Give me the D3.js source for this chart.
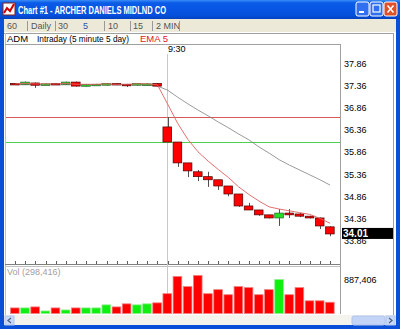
<!DOCTYPE html>
<html><head><meta charset="utf-8">
<script src="https://cdn.jsdelivr.net/npm/d3@7"></script>
<style>body{margin:0;background:#fff}svg{display:block}text{font-family:"Liberation Sans",Arial,sans-serif}</style>
</head><body>
<script>
const times = ["14:45","14:50","14:55","15:00","15:05","15:10","15:15","15:20","15:25","15:30","15:35","15:40","15:45","15:50","15:55",
  "9:30","9:35","9:40","9:45","9:50","9:55","10:00","10:05","10:10","10:15","10:20","10:25","10:30","10:35","10:40","10:45","10:50"];
const open  = [37.40,37.38,37.41,37.38,37.40,37.38,37.43,37.35,37.37,37.36,37.40,37.38,37.36,37.38,37.40,
  36.42,36.08,35.61,35.41,35.30,35.23,35.09,34.91,34.64,34.55,34.44,34.37,34.48,34.46,34.41,34.37,34.17];
const high  = [37.41,37.44,37.42,37.40,37.41,37.44,37.44,37.38,37.39,37.41,37.41,37.39,37.41,37.40,37.41,
  36.64,36.08,35.61,35.45,35.41,35.23,35.09,34.91,34.71,34.55,34.44,34.57,34.57,34.48,34.42,34.38,34.18];
const low   = [37.38,37.37,37.30,37.37,37.37,37.37,37.33,37.33,37.36,37.35,37.36,37.32,37.35,37.37,37.33,
  36.08,35.52,35.29,35.20,35.07,35.00,34.86,34.62,34.55,34.42,34.36,34.19,34.37,34.39,34.36,34.12,33.96];
const close = [37.39,37.43,37.36,37.39,37.38,37.43,37.34,37.37,37.38,37.40,37.37,37.37,37.40,37.39,37.34,
  36.08,35.61,35.43,35.30,35.23,35.09,34.91,34.64,34.55,34.44,34.37,34.48,34.44,34.41,34.37,34.19,34.01];
const volume = [148000,148000,175000,67000,148000,94000,148000,148000,148000,229000,175000,256000,229000,256000,282000,
  525000,982000,713000,1009000,525000,632000,498000,713000,686000,498000,632000,901000,498000,686000,336000,336000,298416];
const emaFast = [37.39,37.40,37.39,37.39,37.39,37.40,37.38,37.38,37.38,37.39,37.38,37.38,37.39,37.39,37.37,
  36.94,36.50,36.14,35.86,35.65,35.46,35.28,35.07,34.90,34.75,34.62,34.57,34.53,34.49,34.45,34.36,34.25];
const emaSlow = [37.37,37.37,37.37,37.37,37.37,37.37,37.37,37.37,37.37,37.37,37.37,37.37,37.37,37.36,37.34,
  37.25,37.09,36.94,36.80,36.67,36.53,36.40,36.26,36.13,35.97,35.83,35.68,35.56,35.45,35.34,35.23,35.11];
const priceTicks = [37.86,37.36,36.86,36.36,35.86,35.36,34.86,34.36,33.86];
const refLines = [{price:36.64,color:"#d85858"},{price:36.08,color:"#50d050"}];
const lastPrice = 34.01;
const volLabel = 887406;
const tabs = ["60","Daily","30","5","10","15","2 MIN"];

const W=400,H=329;
const svg=d3.select("body").append("svg").attr("width",W).attr("height",H);

// window frame
const tg=svg.append("defs").append("linearGradient").attr("id","tg").attr("x1",0).attr("y1",0).attr("x2",0).attr("y2",1);
tg.append("stop").attr("offset","0").attr("stop-color","#3a8cf6");
tg.append("stop").attr("offset","0.15").attr("stop-color","#0a5be8");
tg.append("stop").attr("offset","0.8").attr("stop-color","#0550dd");
tg.append("stop").attr("offset","1").attr("stop-color","#0342c0");
svg.append("rect").attr("width",W).attr("height",H).attr("fill","#0a4fd8");
svg.append("rect").attr("width",W).attr("height",19).attr("fill","url(#tg)");
// icon
svg.append("rect").attr("x",3).attr("y",3).attr("width",12).attr("height",12).attr("fill","#fff").attr("stroke","#802020");
svg.append("path").attr("d","M4,13 L7,8 L10,11 L14,4").attr("stroke","#d00000").attr("stroke-width",2).attr("fill","none");
svg.append("text").attr("x",18).attr("y",14).attr("fill","#fff").attr("font-weight","bold").attr("font-size",11)
  .attr("textLength",148).attr("lengthAdjust","spacingAndGlyphs").text("Chart #1 - ARCHER DANIELS MIDLND CO");
// buttons
[[356,"#2f6ff0"],[370,"#2f6ff0"],[384,"#e0502a"]].forEach(([bx,c])=>{
  svg.append("rect").attr("x",bx).attr("y",2).attr("width",13).attr("height",14).attr("rx",2).attr("fill",c).attr("stroke","#fff");
});
svg.append("rect").attr("x",359).attr("y",11).attr("width",5).attr("height",2).attr("fill","#fff");
svg.append("rect").attr("x",373).attr("y",5).attr("width",7).attr("height",7).attr("fill","none").attr("stroke","#fff").attr("stroke-width",1.2);
svg.append("path").attr("d","M387.5,5.5 L393.5,12.5 M393.5,5.5 L387.5,12.5").attr("stroke","#fff").attr("stroke-width",1.6);

// toolbar
svg.append("rect").attr("x",4).attr("y",19).attr("width",392).attr("height",13).attr("fill","#ece9d8");
const tabX=[7,31,58,83,108,133,156], sepX=[27,55,104,130,152,179];
tabs.forEach((t,i)=>svg.append("text").attr("x",tabX[i]).attr("y",29).attr("font-size",9)
  .attr("fill",t==="5"?"#3050b0":"#555").text(t));
sepX.forEach(x=>svg.append("line").attr("x1",x+0.5).attr("x2",x+0.5).attr("y1",21).attr("y2",31).attr("stroke","#999"));

// client area
svg.append("rect").attr("x",4).attr("y",32).attr("width",392).attr("height",283).attr("fill","#fff");
svg.append("line").attr("x1",4).attr("x2",394).attr("y1",33.5).attr("y2",33.5).attr("stroke","#a0a0a0");
svg.append("line").attr("x1",393.5).attr("x2",393.5).attr("y1",33).attr("y2",315).attr("stroke","#a0a0a0");
svg.append("line").attr("x1",5.5).attr("x2",5.5).attr("y1",33).attr("y2",315).attr("stroke","#c0c0c0");
svg.append("text").attr("x",7).attr("y",42).attr("font-size",9.5).attr("fill","#000").text("ADM");
svg.append("text").attr("x",37).attr("y",42).attr("font-size",9.5).attr("fill","#000")
  .attr("textLength",92).attr("lengthAdjust","spacingAndGlyphs").text("Intraday (5 minute 5 day)");
svg.append("text").attr("x",140).attr("y",42).attr("font-size",9.5).attr("fill","#e02020").text("EMA 5");

// plot frame
const pL=5,pR=340,pT=44,pB=264,vT=266,vB=314;
svg.append("line").attr("x1",pL).attr("x2",pR).attr("y1",pT+0.5).attr("y2",pT+0.5).attr("stroke","#a0a0a0");
svg.append("line").attr("x1",pR+0.5).attr("x2",pR+0.5).attr("y1",pT).attr("y2",vB).attr("stroke","#a0a0a0");
svg.append("line").attr("x1",pL).attr("x2",pR).attr("y1",pB+0.5).attr("y2",pB+0.5).attr("stroke","#808080");
svg.append("line").attr("x1",pL).attr("x2",pR).attr("y1",vT+0.5).attr("y2",vT+0.5).attr("stroke","#c0c0c0");

const x=d3.scaleBand().domain(d3.range(times.length)).range([10,335.2]).padding(0);
const cx=i=>x(i)+x.bandwidth()/2;
const y=d3.scaleLinear().domain([33.86,37.86]).range([240.6,63]);
const yv=d3.scaleLinear().domain([0,volLabel]).range([313.5,280]);

// x ticks
svg.append("g").selectAll("line").data(times).join("line")
  .attr("x1",(d,i)=>Math.round(cx(i))+0.5).attr("x2",(d,i)=>Math.round(cx(i))+0.5)
  .attr("y1",pB-3).attr("y2",pB).attr("stroke","#606060");

// session separator
const s930=times.indexOf("9:30");
svg.append("line").attr("x1",Math.round(cx(s930))-0.5).attr("x2",Math.round(cx(s930))-0.5).attr("y1",54).attr("y2",vB)
  .attr("stroke","#c8c8c8");
svg.append("text").attr("x",Math.round(cx(s930))).attr("y",52).attr("font-size",9).attr("fill","#000").text("9:30");

// reference lines
refLines.forEach(r=>svg.append("line").attr("x1",pL+1).attr("x2",pR).attr("y1",Math.round(y(r.price))+0.5)
  .attr("y2",Math.round(y(r.price))+0.5).attr("stroke",r.color));

// price axis labels
priceTicks.forEach(p=>svg.append("text").attr("x",344).attr("y",y(p)+3.5).attr("font-size",9).attr("fill","#000").text(p.toFixed(2)));

// slow / fast lines
const ln=d3.line().x((d,i)=>cx(i)).y(d=>y(d));
svg.append("path").attr("d",ln(emaSlow)).attr("fill","none").attr("stroke","#808080").attr("stroke-width",0.8);

// candles
const up=i=>close[i]>=open[i];
const cg=svg.append("g");
cg.selectAll("line").data(times).join("line")
  .attr("x1",(d,i)=>Math.round(cx(i))+0.5).attr("x2",(d,i)=>Math.round(cx(i))+0.5)
  .attr("y1",(d,i)=>y(high[i])).attr("y2",(d,i)=>y(low[i])).attr("stroke","#505050");
cg.selectAll("rect").data(times).join("rect")
  .attr("x",(d,i)=>x(i)+0.5).attr("width",x.bandwidth()-1.5)
  .attr("y",(d,i)=>y(Math.max(open[i],close[i])))
  .attr("height",(d,i)=>Math.max(1.5,Math.abs(y(open[i])-y(close[i]))))
  .attr("fill",(d,i)=>up(i)?"#20e020":"#ff0000").attr("stroke",(d,i)=>up(i)?"#306030":"#500000").attr("stroke-width",0.7);

svg.append("path").attr("d",ln(emaFast)).attr("fill","none").attr("stroke","#e06060").attr("stroke-width",0.9);

// last price tag
svg.append("rect").attr("x",342).attr("y",y(lastPrice)-6).attr("width",51).attr("height",11).attr("fill","#000");
svg.append("text").attr("x",343).attr("y",y(lastPrice)+3).attr("font-size",10).attr("font-weight","bold").attr("fill","#fff").text(lastPrice.toFixed(2));

// volume
svg.append("text").attr("x",7).attr("y",275).attr("font-size",9).attr("fill","#a0a0a0").text("Vol ("+d3.format(",")(volume[volume.length-1])+")");
svg.append("g").selectAll("rect").data(volume).join("rect")
  .attr("x",(d,i)=>x(i)+0.5).attr("width",x.bandwidth()-1.5)
  .attr("y",d=>yv(d)).attr("height",d=>yv(0)-yv(d))
  .attr("fill",(d,i)=>up(i)?"#10f010":"#ff0000").attr("stroke",(d,i)=>up(i)?"#90f090":"#f08080").attr("stroke-width",0.8);
svg.append("text").attr("x",344).attr("y",yv(volLabel)+3).attr("font-size",9).attr("fill","#000").text(d3.format(",")(volLabel));

// scrollbar
svg.append("rect").attr("x",4).attr("y",315).attr("width",392).attr("height",10).attr("fill","#f4f3ee");
svg.append("rect").attr("x",5).attr("y",316).attr("width",9).attr("height",9).attr("fill","#c8d8f8").attr("stroke","#b0c4ee");
svg.append("path").attr("d","M11,318 L8,320.5 L11,323").attr("stroke","#4d6185").attr("fill","none").attr("stroke-width",1.3);
svg.append("rect").attr("x",352).attr("y",316).attr("width",33).attr("height",9).attr("rx",2).attr("fill","#c4d4f6").attr("stroke","#b0c4ee");
svg.append("rect").attr("x",386).attr("y",316).attr("width",9).attr("height",9).attr("fill","#c8d8f8").attr("stroke","#b0c4ee");
svg.append("path").attr("d","M389,318 L392,320.5 L389,323").attr("stroke","#4d6185").attr("fill","none").attr("stroke-width",1.3);
</script>
</body></html>
